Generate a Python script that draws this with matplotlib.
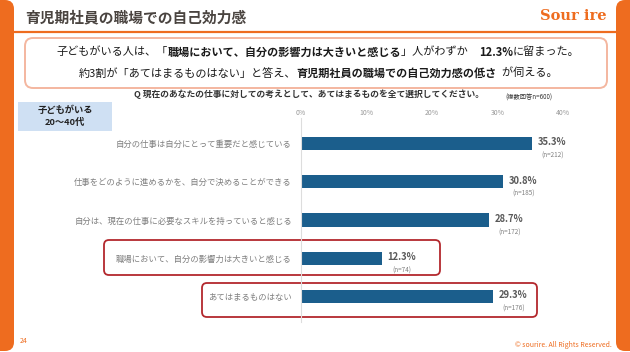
import numpy as np
import matplotlib.pyplot as plt
from matplotlib.patches import FancyBboxPatch, Rectangle

plt.rcParams['font.family'] = ['Noto Sans CJK JP', 'DejaVu Sans']

# data
categories = ['自分の仕事は自分にとって重要だと感じている',
              '仕事をどのように進めるかを、自分で決めることができる',
              '自分は、現在の仕事に必要なスキルを持っていると感じる',
              '職場において、自分の影響力は大きいと感じる',
              'あてはまるものはない']
values = [35.3, 30.8, 28.7, 12.3, 29.3]
counts = [212, 185, 172, 74, 176]
ticks = [0, 10, 20, 30, 40]

orange = '#ee6c1f'
bar_col = '#1b5e8c'

fig = plt.figure(figsize=(6.3, 3.52), dpi=100)
fig.patch.set_facecolor('white')

# decoration layer in pixel coordinates (y downwards)
deco = fig.add_axes([0, 0, 1, 1])
deco.set_xlim(0, 630)
deco.set_ylim(352, 0)
deco.axis('off')

def rbox(x0, y0, x1, y1, r, **kw):
    p = FancyBboxPatch((x0, y0), x1 - x0, y1 - y0,
                       boxstyle='round,pad=0,rounding_size=%g' % r, **kw)
    deco.add_patch(p)

# side strips
rbox(-20, 0, 14, 351, 9, facecolor=orange, edgecolor='none')
rbox(616, 0, 650, 351, 9, facecolor=orange, edgecolor='none')
deco.plot([14, 616], [32, 32], color=orange, lw=1.6, solid_capstyle='butt')

deco.text(25, 17, '育児期社員の職場での自己効力感', fontsize=10.6, fontweight='bold',
          color='#4a4440', va='center', ha='left')
deco.text(607, 16, 'Sour ire', fontsize=10.5, fontweight='bold', color=orange,
          family='DejaVu Serif', va='center', ha='right')

# summary box
rbox(25, 38, 607, 88, 8, facecolor='white', edgecolor='#f4b7a0', lw=1.4)

renderer = fig.canvas.get_renderer()

def mixed_line(parts, cx, cy, size=8):
    txts = []
    for s, bold in parts:
        t = deco.text(0, cy, s, fontsize=size, fontweight='bold' if bold else 'normal',
                      color='#1a1a1a', va='center', ha='left')
        txts.append(t)
    widths = [t.get_window_extent(renderer).width for t in txts]
    x = cx - sum(widths) / 2
    for t, w in zip(txts, widths):
        t.set_x(x)
        x += w

mixed_line([('子どもがいる人は、「', False),
            ('職場において、自分の影響力は大きいと感じる', True),
            ('」人がわずか　', False), ('12.3%', True), ('に留まった。', False)],
           318, 52)
mixed_line([('約3割が「あてはまるものはない」と答え、', False),
            ('育児期社員の職場での自己効力感の低さ', True),
            ('  が伺える。', False)],
           318, 73)

deco.text(309, 94, 'Q 現在のあなたの仕事に対しての考えとして、あてはまるものを全て選択してください。',
          fontsize=6.3, fontweight='bold', color='#333333', ha='center', va='center')
deco.text(529, 98, '(複数回答n=600)', fontsize=4.5, color='#333333',
          ha='center', va='center')

# group label
deco.add_patch(Rectangle((18, 102), 94, 29, facecolor='#cfe0f3', edgecolor='none'))
deco.text(65, 110, '子どもがいる', fontsize=6.7, fontweight='bold', color='#222222',
          ha='center', va='center')
deco.text(65, 122, '20〜40代', fontsize=6.7, fontweight='bold', color='#222222',
          ha='center', va='center')

# highlight frames
rbox(104, 240, 440, 275, 5, facecolor='none', edgecolor='#b3282d', lw=1.3)
rbox(202, 283, 537, 317, 5, facecolor='none', edgecolor='#b3282d', lw=1.3)

# footer
deco.text(20, 341, '24', fontsize=5, color=orange, ha='left', va='center')
deco.text(612, 345, '© sourire. All Rights Reserved.', fontsize=5, color=orange,
          ha='right', va='center')

# bar chart
W, H = 630.0, 352.0
ax = fig.add_axes([301 / W, 1 - 322 / H, 262 / W, 204 / H])
ax.patch.set_alpha(0)
y = np.arange(len(categories))
ax.barh(y, values, height=0.34, color=bar_col)
ax.set_xlim(0, 40)
ax.set_ylim(4.667, -0.667)
ax.set_yticks(y)
ax.set_yticklabels(categories, fontsize=6, color='#7f7f7f')
ax.set_xticks(ticks)
ax.set_xticklabels(['%d%%' % t for t in ticks], fontsize=5, color='#999999')
ax.xaxis.tick_top()
ax.tick_params(axis='x', length=0, pad=1)
ax.tick_params(axis='y', length=0, pad=6.5)
for s in ['top', 'right', 'bottom']:
    ax.spines[s].set_visible(False)
ax.spines['left'].set_color('#dddddd')
ax.spines['left'].set_linewidth(0.8)

for yi, v, n in zip(y, values, counts):
    ax.annotate('%.1f%%' % v, (v, yi), xytext=(14.4, 0.8), textcoords='offset points',
                fontsize=6.8, fontweight='bold', color='#595959', ha='center', va='center')
    ax.annotate('(n=%d)' % n, (v, yi), xytext=(14.8, -8.8), textcoords='offset points',
                fontsize=4.6, color='#7f7f7f', ha='center', va='center')

fig.savefig('out.png', dpi=100)
